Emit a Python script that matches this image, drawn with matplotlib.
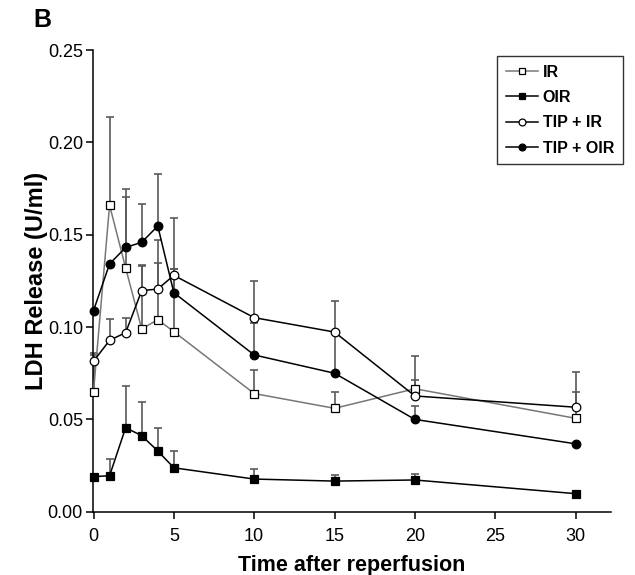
import matplotlib
matplotlib.use("Agg")
import matplotlib.pyplot as plt
import numpy as np

plt.rcParams['font.family'] = ['Liberation Sans', 'DejaVu Sans']

time = [0, 1, 2, 3, 4, 5, 10, 15, 20, 30]

ir = [0.065, 0.166, 0.132, 0.099, 0.104, 0.0975, 0.064, 0.056, 0.0666, 0.0506]
ir_err = [0.021, 0.048, 0.043, 0.034, 0.043, 0.034, 0.013, 0.009, 0.005, 0.014]

oir = [0.019, 0.0195, 0.0455, 0.0412, 0.0329, 0.0238, 0.0177, 0.0166, 0.0172, 0.0098]
oir_err = [0.0, 0.009, 0.0226, 0.0184, 0.0126, 0.009, 0.0053, 0.0034, 0.0034, 0.0]

tip_ir = [0.0815, 0.0928, 0.097, 0.1197, 0.1206, 0.128, 0.1051, 0.0973, 0.0627, 0.0566]
tip_ir_err = [0.0034, 0.0114, 0.0081, 0.0141, 0.0143, 0.0308, 0.0199, 0.017, 0.0216, 0.0191]

tip_oir = [0.1089, 0.1342, 0.1431, 0.1459, 0.1547, 0.1186, 0.0849, 0.075, 0.050, 0.0368]
tip_oir_err = [0.0, 0.0, 0.0274, 0.0208, 0.0281, 0.013, 0.0172, 0.022, 0.0073, 0.0]

labels = ["IR", "OIR", "TIP + IR", "TIP + OIR"]
yticks = [0.00, 0.05, 0.10, 0.15, 0.20, 0.25]
xticks = [0, 5, 10, 15, 20, 25, 30]

fig = plt.figure(figsize=(6.35, 5.75), dpi=100)
ax = fig.add_axes([0.146, 0.110, 0.816, 0.803])

series = [
    (ir, ir_err, 's', 'white', '#777777'),
    (oir, oir_err, 's', 'black', 'black'),
    (tip_ir, tip_ir_err, 'o', 'white', 'black'),
    (tip_oir, tip_oir_err, 'o', 'black', 'black'),
]
err_color = '#5a5a5a'
handles = []
for (vals, err, mk, fc, lc), lab in zip(series, labels):
    lower = np.zeros(len(err))
    eb = ax.errorbar(time, vals, yerr=[lower, err], fmt='none', ecolor=err_color,
                     elinewidth=1.2, capsize=3.2, capthick=1.2, zorder=2)
    for art in eb.lines[1] + eb.lines[2]:
        art.set_clip_on(False)
    ln, = ax.plot(time, vals, color=lc, lw=1.1, marker=mk, ms=6.2,
                  mfc=fc, mec='black', mew=0.9, zorder=3, label=lab, clip_on=False)
    handles.append(ln)

ax.set_xlim(-0.05, 32.2)
ax.set_ylim(0, 0.25)
ax.set_xticks(xticks)
ax.set_yticks(yticks)
ax.set_yticklabels([f"{v:.2f}" for v in yticks])
for s in ['top', 'right']:
    ax.spines[s].set_visible(False)
for s in ['left', 'bottom']:
    ax.spines[s].set_linewidth(1.1)
ax.tick_params(direction='out', length=5, width=1.1, labelsize=13)
ax.tick_params(axis='y', pad=2)
ax.tick_params(axis='x', pad=7)

ax.set_xlabel("Time after reperfusion", fontsize=15.5, fontweight='bold', labelpad=7)
ax.set_ylabel("LDH Release (U/ml)", fontsize=17, fontweight='bold', labelpad=0)

leg = fig.legend(handles=handles, labels=labels, loc='upper right',
                 bbox_to_anchor=(0.981, 0.903), borderaxespad=0, frameon=True,
                 fancybox=False, edgecolor='black',
                 prop={'weight': 'bold', 'size': 11.5},
                 handlelength=2.0, handletextpad=0.3, labelspacing=0.65,
                 borderpad=0.55, markerscale=0.8)
leg.get_frame().set_linewidth(1.0)

fig.text(0.052, 0.966, "B", fontsize=18, fontweight='bold', va='center', ha='left')

fig.savefig("out.png", dpi=100)
